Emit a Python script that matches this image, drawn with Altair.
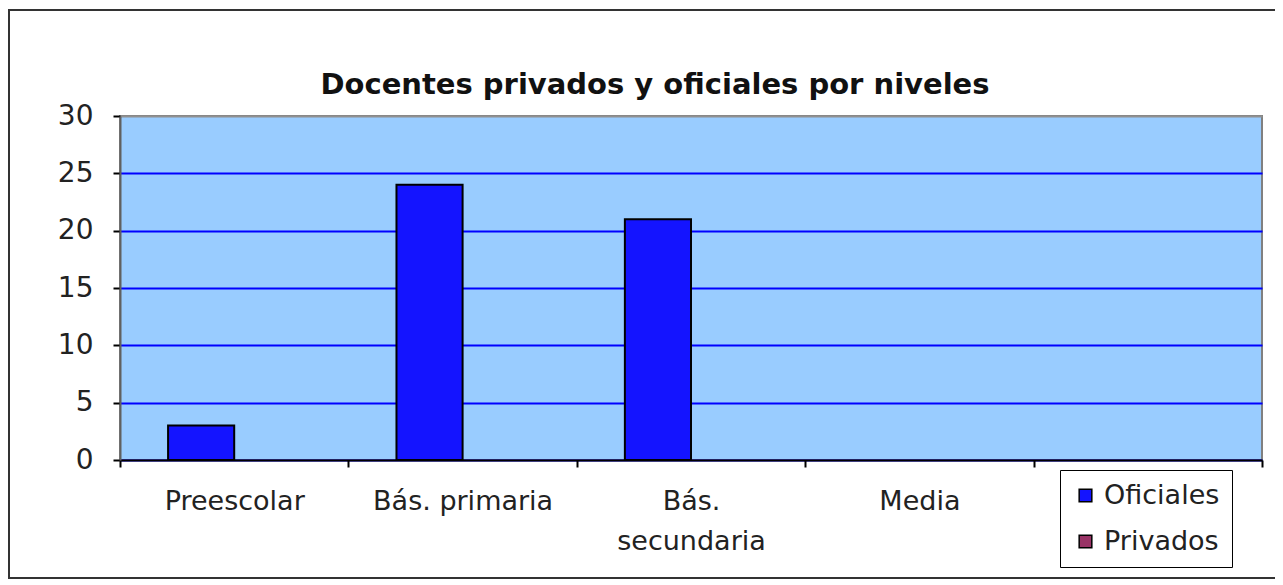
import altair as alt
import pandas as pd

categories = ["Preescolar", "Bás. primaria", "Bás. secundaria", "Media", " "]
oficiales = [3, 24, 21, 0, 0]
privados = [0, 0, 0, 0, 0]
series = ["Oficiales", "Privados"]
colors = ["#1414ff", "#993366"]
title_text = "Docentes privados y oficiales por niveles"

rows = []
for c, o, p in zip(categories, oficiales, privados):
    rows.append({"nivel": c, "serie": "Oficiales", "valor": o})
    rows.append({"nivel": c, "serie": "Privados", "valor": p})
df = pd.DataFrame(rows)

FONT = "DejaVu Sans"

bars = alt.Chart(df).mark_bar(stroke="#000000").encode(
    x=alt.X("nivel:N", sort=categories, title=None,
            scale=alt.Scale(paddingInner=0, paddingOuter=0),
            axis=alt.Axis(labelAngle=0, tickBand="extent", tickSize=7, tickColor="#000000",
                          tickWidth=2, domainColor="#000000", domainWidth=2,
                          labelFontSize=27, labelColor="#222222", labelPadding=21,
                          labelLineHeight=40, labelFont=FONT, labelLimit=400, labelOverlap=False,
                          labelExpr="datum.label == 'Bás. secundaria' ? ['Bás.', 'secundaria'] : datum.label")),
    xOffset=alt.XOffset("serie:N", sort=series,
                        scale=alt.Scale(paddingInner=0, paddingOuter=0.727)),
    y=alt.Y("valor:Q", title=None,
            scale=alt.Scale(domain=[0, 30], nice=False),
            axis=alt.Axis(values=[0, 5, 10, 15, 20, 25, 30], tickSize=7, tickColor="#000000",
                          tickWidth=2, domainColor="#606060", domainWidth=2,
                          labelFontSize=28, labelColor="#222222", labelPadding=20, labelFont=FONT,
                          grid=True, gridWidth=2,
                          gridColor={"condition": {"test": "datum.value === 30", "value": "#909090"},
                                     "value": "#0000ff"})),
    color=alt.Color("serie:N", sort=series,
                    scale=alt.Scale(domain=series, range=colors),
                    legend=alt.Legend(title=None, orient="none", legendX=940, legendY=354,
                                      symbolType="square", symbolSize=160,
                                      symbolStrokeColor="#000000", symbolStrokeWidth=1.5,
                                      labelFontSize=27, labelFont=FONT, labelColor="#222222",
                                      rowPadding=18, padding=12, labelOffset=5,
                                      strokeColor="#000000", fillColor="#ffffff")),
    strokeWidth=alt.condition("datum.valor > 0", alt.value(2), alt.value(0)),
)

frame = alt.Chart(alt.Data(values=[{}])).mark_rect(
    fillOpacity=0, stroke="#333333", strokeWidth=2
).encode(
    x=alt.value(-111), x2=alt.value(1157), y=alt.value(-106), y2=alt.value(462)
)

title = alt.Chart(alt.Data(values=[{"t": title_text}])).mark_text(
    font=FONT, fontSize=29, fontWeight="bold", color="#111111",
    align="center", baseline="alphabetic"
).encode(
    text="t:N", x=alt.value(535), y=alt.value(-22)
)

chart = alt.layer(bars, frame, title).properties(
    width=1142, height=344,
    autosize=alt.AutoSizeParams(type="none"),
    padding={"left": 112, "top": 108, "right": 13, "bottom": 130},
    background="#ffffff",
).configure_view(
    fill="#99ccff", stroke="#808080", strokeWidth=2
)

chart.save("out.html", embed_options={"renderer": "svg", "actions": False})
